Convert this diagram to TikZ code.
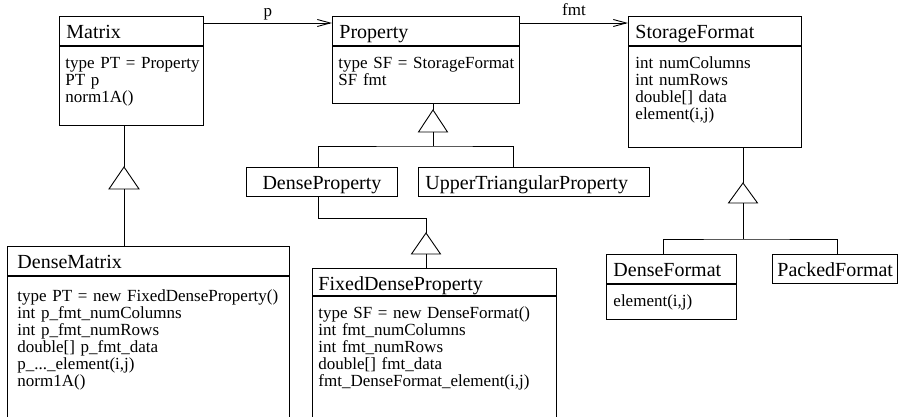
\documentclass[tikz,border=0pt]{standalone}
\usepackage{fontspec}
\setmainfont{Liberation Serif}
\usepackage{tikz}
\usetikzlibrary{arrows.meta}
\hyphenpenalty=10000
\newcommand{\classfont}{\fontsize{20}{20}\selectfont}
\newcommand{\attrfont}{\fontsize{17}{17}\selectfont}
\tikzstyle{classname} = [draw, anchor=north west, font=\classfont, align=left, inner xsep=7pt, inner ysep=0pt, text height=22pt, text depth=7pt]
\tikzstyle{attrs} = [draw, anchor=north west, font=\attrfont, align=left, inner xsep=7pt, inner ysep=0pt, text height=22pt]
\tikzstyle{arrow} = [->, >={Straight Barb[length=13pt,width=7pt]}]

\begin{document}
\begin{tikzpicture}[x=1pt, y=-1pt, line width=0.9pt]
\useasboundingbox (0,0) rectangle (899,417);
\clip (0,0) rectangle (899,417);

%Classes
\node[classname, text width=130pt] (matrixHead) at (59,16) {Matrix};
\node[attrs, inner xsep=6pt, text width=132pt, text depth=57pt] (matrixBody) at (matrixHead.south west) {type~PT~=~Property\\PT p\\norm1A()};
\node[classname, text width=173pt] (propHead) at (332,16) {Property};
\node[attrs, inner xsep=6pt, text width=175pt, text depth=35pt] (propBody) at (propHead.south west) {type~SF~=~StorageFormat\\SF fmt};
\node[classname, text width=159pt] (sfHead) at (628,16) {StorageFormat};
\node[attrs, text width=159pt, text depth=79pt] (sfBody) at (sfHead.south west) {int numColumns\\int numRows\\double[] data\\element(i,j)};

\node[classname, text width=137pt, align=center] (densePropHead) at (246,167) {DenseProperty};
\node[classname, text width=217pt] (upperPropHead) at (418,167) {UpperTriangularProperty};

\node[classname, text width=116pt] (denseFmtHead) at (606,254) {DenseFormat};
\node[attrs, text width=116pt, text depth=13pt] (denseFmtBody) at (denseFmtHead.south west) {element(i,j)};
\node[classname, text width=115pt, inner xsep=5pt] (packedHead) at (772,254) {PackedFormat};

\node[classname, inner xsep=10pt, text width=262pt] (denseMatrixHead) at (7,246) {DenseMatrix};
\node[attrs, inner xsep=10pt, text width=262pt, text height=25pt, text depth=160pt] (denseMatrixBody) at (denseMatrixHead.south west) {type PT = new FixedDenseProperty()\\int p\_fmt\_numColumns\\int p\_fmt\_numRows\\double[] p\_fmt\_data\\p\_...\_element(i,j)\\norm1A()};
\node[classname, inner xsep=6pt, text width=232pt, text depth=5pt] (fixedHead) at (312,268) {FixedDenseProperty};
\node[attrs, inner xsep=6pt, text width=232pt, text depth=150pt] (fixedBody) at (fixedHead.south west) {type SF = new DenseFormat()\\int fmt\_numColumns\\int fmt\_numRows\\double[] fmt\_data\\fmt\_DenseFormat\_element(i,j)};

%Associations
\draw[arrow] ([yshift=-7pt]matrixHead.north east) -- node[anchor=base, yshift=6pt, font=\attrfont]{p} ([yshift=-7pt]propHead.north west);
\draw[arrow] ([yshift=-7pt]propHead.north east) -- node[anchor=base, yshift=7pt, font=\attrfont]{fmt} ([yshift=-7pt]sfHead.north west);

%Inheritance
\coordinate (mTip) at (124,167);
\coordinate (mBase) at (124,189);
\draw (matrixBody.south -| mTip) -- (mTip);
\draw (mTip) -- ++(-15,22) -- ++(30,0) -- cycle;
\draw (mBase) -- (denseMatrixHead.north -| mBase);

\coordinate (pTip) at (433,110);
\coordinate (pBase) at (433,132);
\coordinate (pJoin) at (433,146);
\draw (propBody.south -| pTip) -- (pTip);
\draw (pTip) -- ++(-14.5,22) -- ++(29,0) -- cycle;
\draw (pBase) -- (pJoin);
\draw ([xshift=-3.5pt]densePropHead.north) |- (pJoin) -| ([xshift=-20.5pt]upperPropHead.north);

\coordinate (fJoin) at (426,218);
\coordinate (fTip) at (426,233);
\coordinate (fBase) at (426,254);
\draw ([xshift=-3.5pt]densePropHead.south) |- (fJoin) -- (fTip);
\draw (fTip) -- ++(-14.5,21) -- ++(29,0) -- cycle;
\draw (fBase) -- (fixedHead.north -| fBase);

\coordinate (sTip) at (743,183);
\coordinate (sBase) at (743,203);
\coordinate (sJoin) at (743,239);
\draw (sfBody.south -| sTip) -- (sTip);
\draw (sTip) -- ++(-14.5,20) -- ++(29,0) -- cycle;
\draw (sBase) -- (sJoin);
\draw ([xshift=-8pt]denseFmtHead.north) |- (sJoin) -| ([xshift=2.5pt]packedHead.north);

\end{tikzpicture}
\end{document}
